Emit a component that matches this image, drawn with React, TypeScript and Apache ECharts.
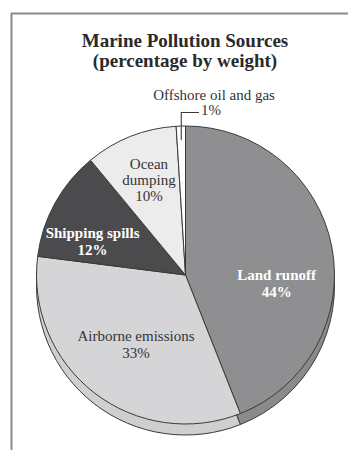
import { useEffect, useRef } from "react";
import * as echarts from "echarts";

// Source categories and their share of marine pollution (percent by weight)
const categories = [
  "Land runoff",
  "Airborne emissions",
  "Shipping spills",
  "Ocean dumping",
  "Offshore oil and gas",
];
const percents = [44, 33, 12, 10, 1];
const titleLines = ["Marine Pollution Sources", "(percentage by weight)"];

// Styling per slice
const sliceColors = ["#8f8f91", "#d5d5d7", "#4b4b4d", "#ececec", "#ffffff"];
const rimColors = ["#8a8a8c", "#cfcfd1", "#474749", "#e6e6e6", "#f6f6f6"];
const labelColors = ["#ffffff", "#343434", "#ffffff", "#343434", "#343434"];
const labelBold = [true, false, true, false, false];
const labelBreakName = [false, false, false, true, false];
const labelLineHeights = [17, 17, 17, 16, 15];
const labelNudge: [number, number][] = [
  [15, 23],
  [-2, 8],
  [-25, 4],
  [-8, -23],
  [31, -95],
];

const CX = 185.5;
const CY = 275;
const R = 149;
const DEPTH = 11;
const SERIF = '"Liberation Serif", "DejaVu Serif", serif';
const INK = "#3a3a3a";

export default function App() {
  const ref = useRef<HTMLDivElement>(null);

  useEffect(() => {
    if (!ref.current) return;
    const chart = echarts.init(ref.current, undefined, { renderer: "svg" });

    const total = percents.reduce((a, b) => a + b, 0);
    const lastIdx = percents.length - 1;
    const startShare = percents.slice(0, lastIdx).reduce((a, b) => a + b, 0);
    // mid angle of the smallest slice, measured clockwise from 12 o'clock
    const midDeg = ((startShare + percents[lastIdx] / 2) / total) * 360;
    const midRad = (midDeg * Math.PI) / 180;
    const leadR = R - 14;
    const leadX = CX + leadR * Math.sin(midRad);
    const leadY = CY - leadR * Math.cos(midRad);

    const topData = categories.map((name, i) => {
      const isSmall = i === lastIdx;
      const shown = labelBreakName[i] ? name.replace(" ", "\n") : name;
      return {
        name,
        value: percents[i],
        itemStyle: { color: sliceColors[i] },
        label: {
          color: labelColors[i],
          fontWeight: labelBold[i] ? "bold" : "normal",
          lineHeight: labelLineHeights[i],
          formatter: isSmall
            ? `{n|${shown}}\n{v|${percents[i]}%}`
            : `${shown}\n${percents[i]}%`,
          rich: isSmall
            ? {
                n: { fontFamily: SERIF, fontSize: 15, color: labelColors[i], lineHeight: 15 },
                v: {
                  fontFamily: SERIF,
                  fontSize: 15,
                  color: labelColors[i],
                  lineHeight: 15,
                  padding: [0, 6, 0, 0],
                },
              }
            : undefined,
        },
      };
    });

    const rimData = categories.map((name, i) => ({
      name,
      value: percents[i],
      itemStyle: { color: rimColors[i] },
    }));

    chart.setOption({
      animation: false,
      backgroundColor: "#ffffff",
      graphic: [
        // frame
        {
          type: "line",
          shape: { x1: 11, y1: 13.5, x2: 348, y2: 13.5 },
          style: { stroke: "#8a8a8a", lineWidth: 2 },
        },
        {
          type: "line",
          shape: { x1: 11.5, y1: 13, x2: 11.5, y2: 450 },
          style: { stroke: "#8a8a8a", lineWidth: 2 },
        },
        ...titleLines.map((t, i) => ({
          type: "text",
          x: 185,
          y: 40 + i * 20,
          style: {
            text: t,
            fill: "#2a2a2a",
            font: `bold 19px ${SERIF}`,
            textAlign: "center",
            textVerticalAlign: "middle",
          },
        })),
        // leader for the smallest slice
        {
          type: "polyline",
          z: 10,
          shape: {
            points: [
              [leadX, leadY],
              [leadX, 112.5],
              [199, 112.5],
            ],
          },
          style: { stroke: INK, lineWidth: 1.1, fill: "none" },
        },
      ],
      series: [
        {
          type: "pie",
          z: 1,
          silent: true,
          center: [CX, CY + DEPTH],
          radius: R,
          startAngle: 90,
          clockwise: true,
          label: { show: false },
          labelLine: { show: false },
          emphasis: { disabled: true },
          itemStyle: { borderColor: INK, borderWidth: 1 },
          data: rimData,
        },
        {
          type: "pie",
          z: 2,
          silent: true,
          center: [CX, CY],
          radius: R,
          startAngle: 90,
          clockwise: true,
          avoidLabelOverlap: false,
          emphasis: { disabled: true },
          itemStyle: { borderColor: INK, borderWidth: 1 },
          label: {
            show: true,
            position: "inside",
            fontFamily: SERIF,
            fontSize: 15,
            lineHeight: 17,
            align: "center",
          },
          labelLine: { show: false },
          labelLayout: (p: any) => {
            const n = labelNudge[p.dataIndex] || [0, 0];
            return { dx: n[0], dy: n[1] };
          },
          data: topData,
        },
      ],
    });

    return () => chart.dispose();
  }, []);

  return (
    <div
      ref={ref}
      style={{ position: "fixed", left: 0, top: 0, width: 348, height: 450, background: "#fff" }}
    />
  );
}
